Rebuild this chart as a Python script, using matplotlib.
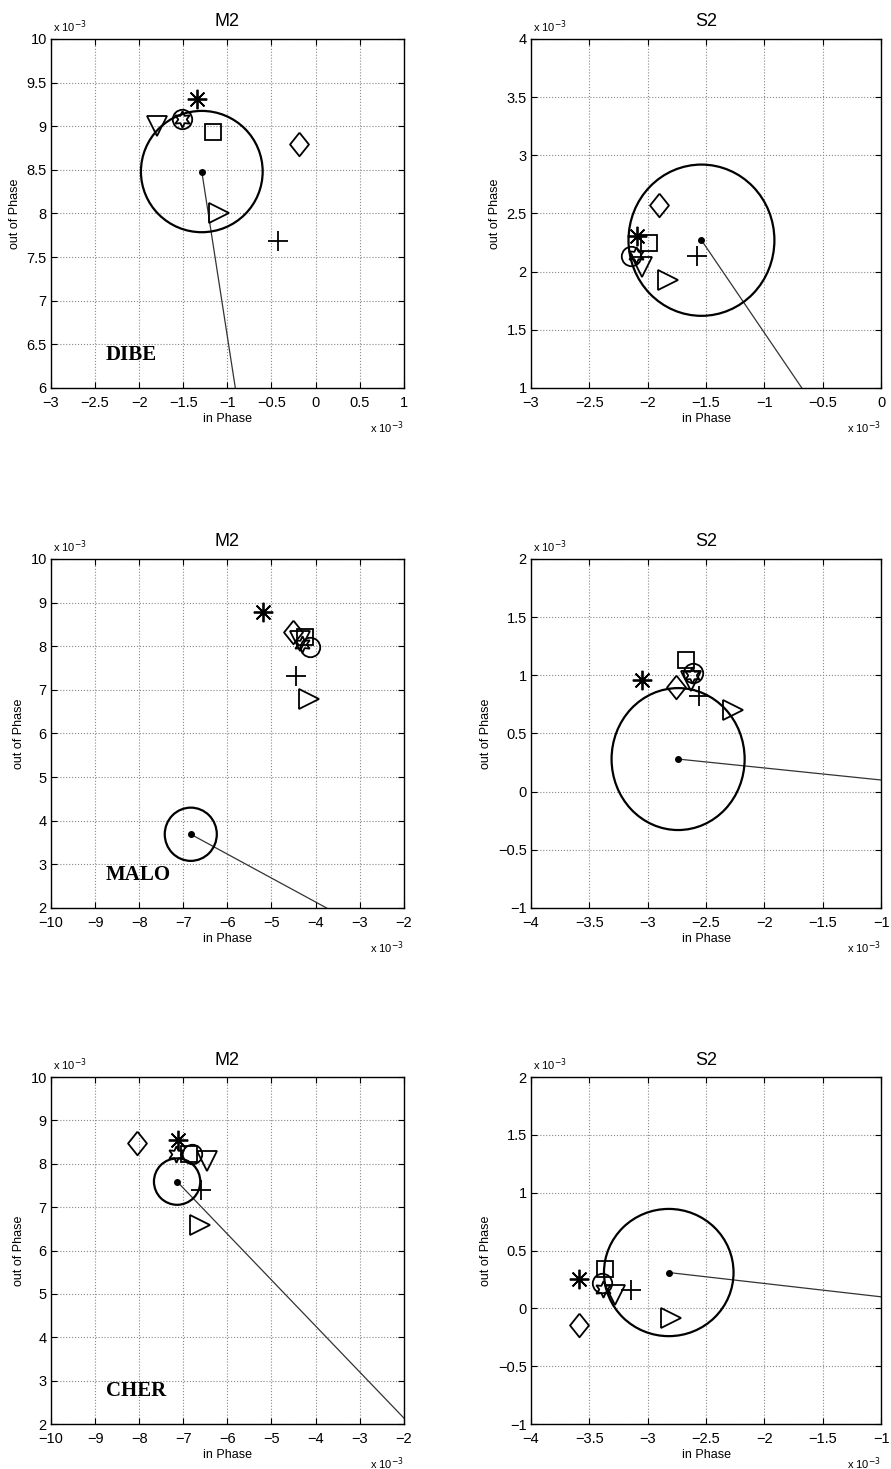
import numpy as np
import matplotlib
matplotlib.use("Agg")
import matplotlib.pyplot as plt
from matplotlib.patches import Ellipse
from matplotlib.ticker import FuncFormatter, MultipleLocator

plt.rcParams["font.family"] = ["Liberation Sans", "DejaVu Sans"]

# values in units of 1e-3, order of symbols:
# asterisk, circle, hexagram, triangle-down, square, diamond, triangle-right, plus
stations = ["DIBE", "MALO", "CHER"]
waves = ["M2", "S2"]

dibe_m2_x = [-1.34, -1.52, -1.52, -1.80, -1.16, -0.19, -1.10, -0.43]
dibe_m2_y = [9.31, 9.08, 9.08, 9.00, 8.93, 8.80, 8.01, 7.68]
dibe_s2_x = [-2.09, -2.14, -2.10, -2.05, -1.99, -1.90, -1.83, -1.58]
dibe_s2_y = [2.31, 2.13, 2.14, 2.04, 2.25, 2.57, 1.93, 2.13]

malo_m2_x = [-5.19, -4.13, -4.30, -4.35, -4.24, -4.51, -4.16, -4.45]
malo_m2_y = [8.79, 7.99, 8.05, 8.12, 8.22, 8.33, 6.79, 7.32]
malo_s2_x = [-3.05, -2.61, -2.62, -2.63, -2.67, -2.76, -2.27, -2.56]
malo_s2_y = [0.96, 1.02, 1.00, 0.95, 1.13, 0.90, 0.70, 0.82]

cher_m2_x = [-7.13, -6.81, -7.17, -6.47, -6.88, -8.04, -6.62, -6.60]
cher_m2_y = [8.55, 8.23, 8.22, 8.07, 8.22, 8.49, 6.60, 7.40]
cher_s2_x = [-3.59, -3.39, -3.38, -3.28, -3.37, -3.59, -2.80, -3.14]
cher_s2_y = [0.25, 0.22, 0.17, 0.12, 0.34, -0.14, -0.08, 0.16]

# observed value (centre), error ellipse width/height, end of the vector line
centre_x = [[-1.29, -1.54], [-6.83, -2.74], [-7.14, -2.82]]
centre_y = [[8.48, 2.27], [3.69, 0.28], [7.59, 0.31]]
ell_w = [[1.38, 1.25], [1.18, 1.14], [1.05, 1.11]]
ell_h = [[1.39, 1.30], [1.22, 1.22], [1.07, 1.10]]
vec_end_x = [[-0.91, -0.68], [-3.75, -1.0], [-2.0, -1.0]]
vec_end_y = [[6.0, 1.0], [2.0, 0.10], [2.14, 0.10]]

xlims = [[(-3, 1), (-3, 0)], [(-10, -2), (-4, -1)], [(-10, -2), (-4, -1)]]
ylims = [[(6, 10), (1, 4)], [(2, 10), (-1, 2)], [(2, 10), (-1, 2)]]
steps = [[(0.5, 0.5), (0.5, 0.5)], [(1, 1), (0.5, 0.5)], [(1, 1), (0.5, 0.5)]]

points = [
    [(dibe_m2_x, dibe_m2_y), (dibe_s2_x, dibe_s2_y)],
    [(malo_m2_x, malo_m2_y), (malo_s2_x, malo_s2_y)],
    [(cher_m2_x, cher_m2_y), (cher_s2_x, cher_s2_y)],
]

diamond = [(0, 1), (0.8, 0), (0, -1), (-0.8, 0), (0, 1)]
symbols = [
    dict(marker=(8, 2, 0), ms=14),
    dict(marker="o", ms=14),
    dict(marker=(6, 1, 0), ms=12),
    dict(marker="v", ms=15),
    dict(marker="s", ms=12),
    dict(marker=diamond, ms=17),
    dict(marker=">", ms=15),
    dict(marker="+", ms=14),
]

fig = plt.figure(figsize=(8.91, 14.69), dpi=100)

lefts = [0.0572, 0.596]
widths = [0.396, 0.393]
bottoms = [0.7359, 0.3819, 0.0306]
heights = [0.2376, 0.2376, 0.2362]

fmt = FuncFormatter(lambda v, p: f"{v:g}".replace("-", "\u2212"))

for r in range(3):
    for c in range(2):
        ax = fig.add_axes([lefts[c], bottoms[r], widths[c], heights[r]])
        px, py = points[r][c]
        cx, cy = centre_x[r][c], centre_y[r][c]

        ax.plot([cx, vec_end_x[r][c]], [cy, vec_end_y[r][c]],
                color="#333333", lw=0.9, zorder=2)
        ax.add_patch(Ellipse((cx, cy), ell_w[r][c], ell_h[r][c],
                             fill=False, edgecolor="black", lw=1.6, zorder=3))
        ax.plot(cx, cy, "o", color="black", ms=4, zorder=4)

        for k, st in enumerate(symbols):
            ax.plot(px[k], py[k], linestyle="none", marker=st["marker"],
                    ms=st["ms"], mfc="none", mec="black", mew=1.3, zorder=5)

        ax.set_xlim(*xlims[r][c])
        ax.set_ylim(*ylims[r][c])
        ax.xaxis.set_major_locator(MultipleLocator(steps[r][c][0]))
        ax.yaxis.set_major_locator(MultipleLocator(steps[r][c][1]))
        ax.xaxis.set_major_formatter(fmt)
        ax.yaxis.set_major_formatter(fmt)
        ax.tick_params(direction="in", top=True, right=True, length=4,
                       labelsize=10.5, width=0.8)
        ax.tick_params(axis="x", pad=6)
        ax.tick_params(axis="y", pad=3)
        ax.grid(True, linestyle=":", color="#888888", lw=0.8)
        for s in ax.spines.values():
            s.set_linewidth(1.0)

        ax.set_title(waves[c], fontsize=13, pad=9)
        ax.set_xlabel("in Phase", fontsize=9, labelpad=2)
        ax.set_ylabel("out of Phase", fontsize=9, labelpad=4)

        ax.text(0.005, 1.012, r"x 10$^{-3}$", transform=ax.transAxes,
                fontsize=8, ha="left", va="bottom")
        ax.text(1.0, -0.09, r"x 10$^{-3}$", transform=ax.transAxes,
                fontsize=8, ha="right", va="top")

        if c == 0:
            ax.text(0.155, 0.095, stations[r], transform=ax.transAxes,
                    fontsize=15, fontweight="bold", family="Liberation Serif",
                    ha="left", va="center")

fig.savefig("out.png", dpi=100)
